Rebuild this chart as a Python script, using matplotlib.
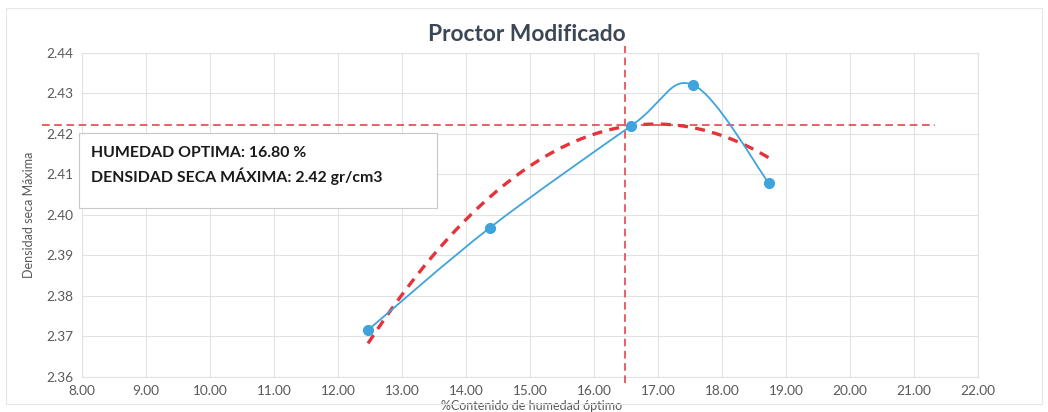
import numpy as np
import matplotlib
matplotlib.use("Agg")
import matplotlib.pyplot as plt
from matplotlib.patches import Rectangle
from matplotlib.path import Path
from matplotlib.patches import PathPatch

# ensayo proctor: humedad (%) vs densidad seca (gr/cm3)
humedad = [12.47, 14.37, 16.58, 17.55, 18.73]
densidad = [2.3716, 2.3968, 2.4220, 2.4321, 2.4079]

humedad_optima = 16.48
densidad_maxima = 2.4222
texto_caja = ["HUMEDAD OPTIMA: 16.80 %", "DENSIDAD SECA MÁXIMA: 2.42 gr/cm3"]

x_ticks = np.arange(8, 22.01, 1.0)
y_ticks = np.arange(2.36, 2.4401, 0.01)

plt.rcParams["font.family"] = ["Lato", "DejaVu Sans"]

blue = "#3fa3dc"
red = "#e5333b"
gray_txt = "#595959"


def smooth_path(xs, ys):
    # curva suavizada tipo Excel (Catmull-Rom -> Bezier)
    pts = np.column_stack([xs, ys])
    n = len(pts)
    verts = [pts[0]]
    codes = [Path.MOVETO]
    for i in range(n - 1):
        p0 = pts[max(i - 1, 0)]
        p1 = pts[i]
        p2 = pts[i + 1]
        p3 = pts[min(i + 2, n - 1)]
        c1 = p1 + (p2 - p0) / 6
        c2 = p2 - (p3 - p1) / 6
        verts += [c1, c2, p2]
        codes += [Path.CURVE4] * 3
    return Path(verts, codes)


fig = plt.figure(figsize=(10.48, 4.12), dpi=100)
ax = fig.add_axes([0.0782, 0.085, 0.855, 0.7864])

ax.set_xlim(8, 22)
ax.set_ylim(2.36, 2.44)
ax.set_xticks(x_ticks)
ax.set_yticks(y_ticks)
ax.set_xticklabels([f"{v:.2f}" for v in x_ticks])
ax.set_yticklabels([f"{v:.2f}" for v in y_ticks])
ax.tick_params(length=0, labelsize=9.8, colors=gray_txt, pad=6)
ax.grid(True, color="#e2e2e2", lw=0.8)
ax.set_axisbelow(True)
for s in ax.spines.values():
    s.set_color("#e2e2e2")
    s.set_linewidth(0.8)

# curva de ajuste polinomica (grado 2)
coef = np.polyfit(humedad, densidad, 2)
xf = np.linspace(min(humedad), max(humedad), 200)
ax.plot(xf, np.polyval(coef, xf), color=red, lw=2.4, ls=(0, (3, 2.2)), zorder=3)

# datos
ax.add_patch(PathPatch(smooth_path(humedad, densidad), fill=False, ec=blue, lw=1.3, zorder=4))
ax.plot(humedad, densidad, "o", color=blue, ms=7, zorder=5)

# lineas de optimo
ax.plot([humedad_optima, humedad_optima], [2.3585, 2.4418], color=red, lw=1.1,
        ls=(0, (5, 3)), clip_on=False, zorder=3)
ax.plot([7.37, 21.33], [densidad_maxima, densidad_maxima], color=red, lw=1.1,
        ls=(0, (5, 3)), clip_on=False, zorder=3)

# caja de texto
ax.add_patch(Rectangle((7.95, 2.4017), 5.6, 0.0185, fc="white", ec="#c8c8c8",
                       lw=0.8, clip_on=False, zorder=6))
ax.text(8.14, 2.4143, texto_caja[0], fontsize=11.4, fontweight="bold", color="#1a1a1a", zorder=7)
ax.text(8.14, 2.4081, texto_caja[1], fontsize=11.4, fontweight="bold", color="#1a1a1a", zorder=7)

fig.text(0.503, 0.90, "Proctor Modificado", ha="center", va="baseline", fontsize=16.4,
         fontweight="bold", color="#3b4656")
ax.set_ylabel("Densidad seca Máxima", fontsize=9, color=gray_txt, labelpad=8)
ax.set_xlabel("%Contenido de humedad óptimo", fontsize=9, color=gray_txt)
ax.xaxis.set_label_coords(0.502, -0.072)

fig.add_artist(Rectangle((0.006, 0.02), 0.988, 0.96, transform=fig.transFigure,
                         fill=False, ec="#e6e6e6", lw=0.8))

fig.savefig("out.png", dpi=100)
